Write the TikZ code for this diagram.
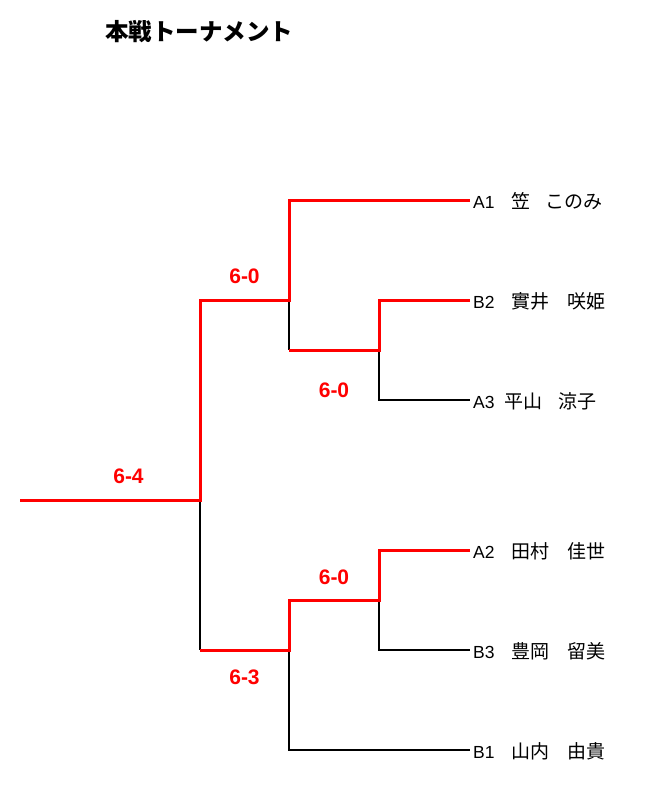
\documentclass[tikz,border=0pt]{standalone}
\usepackage{fontspec}
\setmainfont{Liberation Sans}
\newfontfamily\jp{Noto Sans CJK JP}
\begin{document}
\begin{tikzpicture}[x=1pt,y=-1pt,
  win/.style={draw={rgb,255:red,255;green,0;blue,0}, line width=3pt, line join=miter},
  lose/.style={draw=black, line width=1.2pt},
  score/.style={text={rgb,255:red,255;green,0;blue,0}, inner sep=0pt, font=\bfseries\fontsize{21}{21}\selectfont},
  entry/.style={anchor=base west, inner sep=0pt, font=\jp\fontsize{19}{19}\selectfont},
  code/.style={anchor=base west, inner sep=0pt, font=\fontsize{17.5}{17.5}\selectfont},
  titlestyle/.style={inner sep=0pt, font=\jp\bfseries\fontsize{23.5}{23.5}\selectfont}]
\fill[white] (0,0) rectangle (650,800);
\useasboundingbox (0,0) rectangle (650,800);
% title
\node[titlestyle] (title) at (199,32) {本戦トーナメント};
% leaves
\coordinate (a1) at (470,200);
\coordinate (b2) at (470,300);
\coordinate (a3) at (470,400);
\coordinate (a2) at (470,550);
\coordinate (b3) at (470,650);
\coordinate (b1) at (470,750);
% junctions
\coordinate (m1t) at (379,300); \coordinate (m1b) at (379,400); \coordinate (m1o) at (379,350);
\coordinate (m2t) at (289,200); \coordinate (m2b) at (289,350); \coordinate (m2o) at (289,300);
\coordinate (m3t) at (379,550); \coordinate (m3b) at (379,650); \coordinate (m3o) at (379,600);
\coordinate (m4t) at (289,600); \coordinate (m4b) at (289,750); \coordinate (m4o) at (289,650);
\coordinate (ft) at (200,300); \coordinate (fb) at (200,650); \coordinate (fo) at (200,500);
\coordinate (root) at (20,500);
% losing lines
\draw[lose] (m2o) -- (m2b);
\draw[lose] (m1o) -- (m1b) -- (a3);
\draw[lose] (m3o) -- (m3b) -- (b3);
\draw[lose] (m4o) -- (m4b) -- (b1);
\draw[lose] (fo) -- (fb);
% winning lines
\draw[win] (a1) -- (m2t) -- (m2o) -- (ft) -- (fo) -- (root);
\draw[win] (b2) -- (m1t) -- (m1o) -- (m2b);
\draw[win] (a2) -- (m3t) -- (m3o) -- (m4t) -- (m4o) -- (fb);
% scores
\node[score] (s1) at (244.5,276) {6-0};
\node[score] (s2) at (334,390.5) {6-0};
\node[score] (s3) at (334,577) {6-0};
\node[score] (s4) at (244.5,677.5) {6-3};
\node[score] (s5) at (128.5,476.5) {6-4};
% names
\node[code] (ca1) at (473,208) {A1};
\node[entry] (na1) at (511,208) {笠};
\node[entry] (ga1) at (545,208) {このみ};
\node[code] (cb2) at (473,308) {B2};
\node[entry] (nb2) at (511,308) {實井};
\node[entry] (gb2) at (567,308) {咲姫};
\node[code] (ca3) at (473,408) {A3};
\node[entry] (na3) at (504,408) {平山};
\node[entry] (ga3) at (558,408) {涼子};
\node[code] (ca2) at (473,558) {A2};
\node[entry] (na2) at (511,558) {田村};
\node[entry] (ga2) at (567,558) {佳世};
\node[code] (cb3) at (473,658) {B3};
\node[entry] (nb3) at (511,658) {豊岡};
\node[entry] (gb3) at (567,658) {留美};
\node[code] (cb1) at (473,758) {B1};
\node[entry] (nb1) at (511,758) {山内};
\node[entry] (gb1) at (567,758) {由貴};
\end{tikzpicture}
\end{document}
